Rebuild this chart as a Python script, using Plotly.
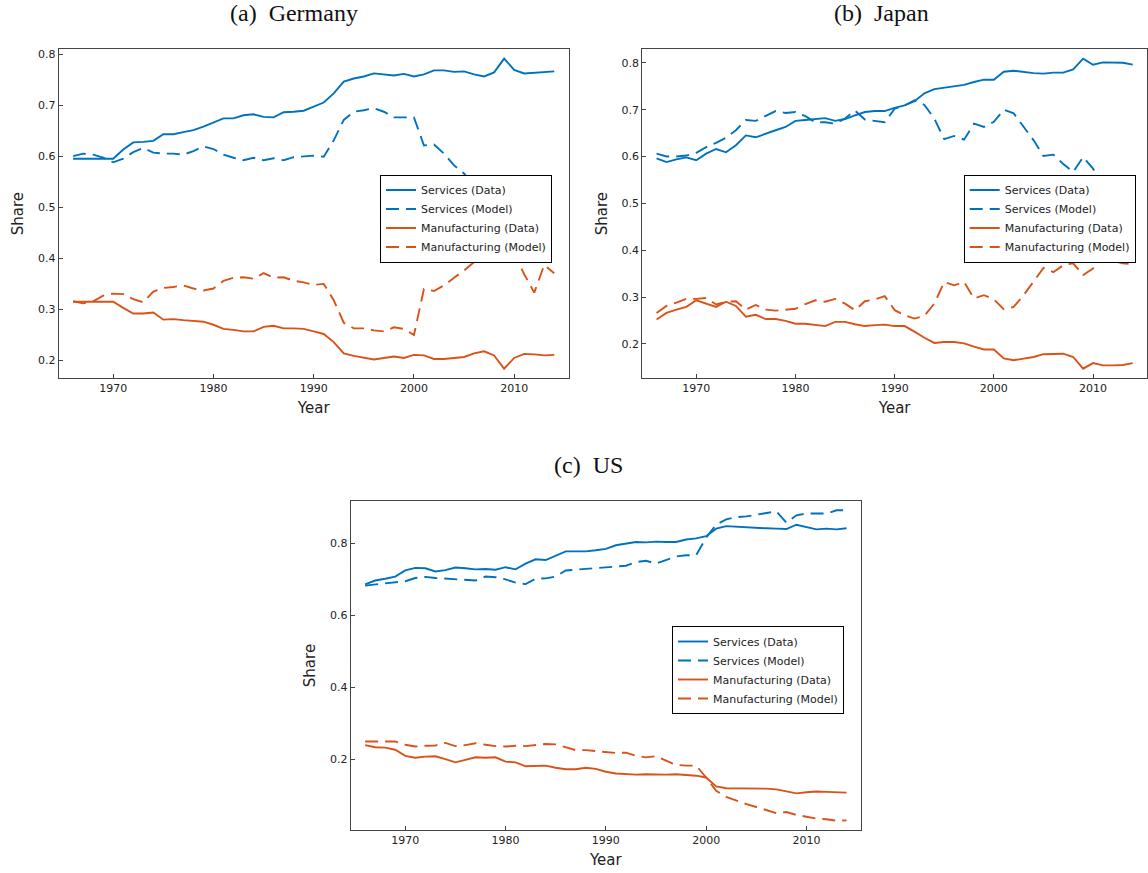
import plotly.graph_objects as go

years = list(range(1966, 2015))

# ---------------- Germany ----------------
de_serv_data = [0.595, 0.595, 0.595, 0.595, 0.595, 0.613, 0.627, 0.628, 0.630, 0.643,
                0.643, 0.647, 0.651, 0.658, 0.666, 0.674, 0.674, 0.680, 0.682, 0.677,
                0.676, 0.686, 0.687, 0.689, 0.697, 0.705, 0.723, 0.746, 0.752, 0.756,
                0.762, 0.760, 0.758, 0.761, 0.756, 0.760, 0.768, 0.768, 0.765, 0.766,
                0.760, 0.756, 0.764, 0.791, 0.769, 0.762, 0.763, 0.765, 0.766]
de_serv_model = [0.600, 0.605, 0.603, 0.597, 0.588, 0.595, 0.608, 0.616, 0.607, 0.605,
                 0.605, 0.603, 0.610, 0.619, 0.614, 0.603, 0.597, 0.592, 0.597, 0.592,
                 0.596, 0.592, 0.598, 0.599, 0.601, 0.599, 0.631, 0.671, 0.687, 0.690,
                 0.694, 0.687, 0.676, 0.676, 0.676, 0.621, 0.623, 0.605, 0.582, 0.566,
                 0.543, 0.517, 0.500, 0.505, 0.490, 0.472, 0.460, 0.459, 0.459]
de_manu_data = [0.315, 0.315, 0.315, 0.315, 0.315, 0.303, 0.292, 0.292, 0.294, 0.280,
                0.281, 0.279, 0.278, 0.276, 0.270, 0.262, 0.260, 0.257, 0.257, 0.266,
                0.268, 0.263, 0.263, 0.262, 0.257, 0.252, 0.236, 0.214, 0.209, 0.206,
                0.202, 0.205, 0.208, 0.205, 0.211, 0.210, 0.203, 0.203, 0.205, 0.207,
                0.214, 0.218, 0.210, 0.184, 0.205, 0.213, 0.212, 0.210, 0.211]
de_manu_model = [0.316, 0.312, 0.316, 0.327, 0.331, 0.330, 0.320, 0.314, 0.335, 0.342,
                 0.344, 0.347, 0.341, 0.337, 0.341, 0.356, 0.362, 0.363, 0.360, 0.371,
                 0.362, 0.363, 0.356, 0.353, 0.348, 0.350, 0.318, 0.274, 0.263, 0.263,
                 0.259, 0.257, 0.265, 0.262, 0.250, 0.340, 0.336, 0.347, 0.362, 0.376,
                 0.393, 0.412, 0.430, 0.415, 0.409, 0.369, 0.333, 0.387, 0.371]

# ---------------- Japan ----------------
jp_serv_data = [0.596, 0.588, 0.594, 0.598, 0.592, 0.606, 0.616, 0.609, 0.624, 0.645,
                0.641, 0.649, 0.656, 0.663, 0.676, 0.678, 0.680, 0.682, 0.676, 0.680,
                0.688, 0.695, 0.697, 0.697, 0.704, 0.709, 0.718, 0.735, 0.744, 0.747,
                0.749, 0.753, 0.759, 0.764, 0.764, 0.781, 0.783, 0.780, 0.778, 0.777,
                0.779, 0.779, 0.786, 0.809, 0.796, 0.801, 0.800, 0.800, 0.796]
jp_serv_model = [0.606, 0.600, 0.600, 0.602, 0.608, 0.620, 0.629, 0.640, 0.656, 0.678,
                 0.676, 0.686, 0.697, 0.693, 0.695, 0.686, 0.673, 0.673, 0.670, 0.681,
                 0.698, 0.679, 0.676, 0.673, 0.702, 0.709, 0.720, 0.710, 0.681, 0.637,
                 0.644, 0.636, 0.670, 0.663, 0.674, 0.700, 0.692, 0.663, 0.635, 0.601,
                 0.604, 0.584, 0.567, 0.599, 0.574, 0.540, 0.542, 0.542, 0.542]
jp_manu_data = [0.252, 0.266, 0.273, 0.279, 0.293, 0.286, 0.279, 0.290, 0.281, 0.258,
                0.262, 0.253, 0.253, 0.249, 0.243, 0.243, 0.241, 0.238, 0.247, 0.247,
                0.242, 0.238, 0.240, 0.241, 0.238, 0.238, 0.226, 0.213, 0.202, 0.204,
                0.204, 0.201, 0.194, 0.188, 0.188, 0.169, 0.165, 0.169, 0.172, 0.178,
                0.178, 0.179, 0.172, 0.147, 0.159, 0.154, 0.154, 0.155, 0.159]
jp_manu_model = [0.266, 0.281, 0.288, 0.296, 0.296, 0.298, 0.284, 0.290, 0.291, 0.273,
                 0.283, 0.273, 0.271, 0.273, 0.275, 0.285, 0.293, 0.290, 0.296, 0.286,
                 0.272, 0.291, 0.295, 0.302, 0.272, 0.261, 0.254, 0.260, 0.286, 0.332,
                 0.325, 0.332, 0.297, 0.304, 0.295, 0.274, 0.279, 0.304, 0.332, 0.362,
                 0.353, 0.368, 0.372, 0.347, 0.361, 0.384, 0.377, 0.372, 0.370]

# ---------------- US ----------------
us_serv_data = [0.685, 0.696, 0.701, 0.707, 0.724, 0.731, 0.730, 0.721, 0.725, 0.732,
                0.730, 0.727, 0.728, 0.726, 0.733, 0.727, 0.743, 0.755, 0.753, 0.764,
                0.777, 0.777, 0.777, 0.780, 0.784, 0.794, 0.798, 0.803, 0.802, 0.804,
                0.803, 0.803, 0.810, 0.813, 0.819, 0.840, 0.847, 0.845, 0.843, 0.843,
                0.841, 0.840, 0.839, 0.851, 0.845, 0.838, 0.840, 0.838, 0.841]
us_serv_model = [0.682, 0.685, 0.689, 0.690, 0.694, 0.703, 0.706, 0.703, 0.701, 0.700,
                 0.698, 0.696, 0.707, 0.705, 0.699, 0.690, 0.686, 0.701, 0.702, 0.707,
                 0.724, 0.726, 0.728, 0.730, 0.733, 0.736, 0.737, 0.747, 0.751, 0.743,
                 0.754, 0.763, 0.766, 0.766, 0.815, 0.851, 0.866, 0.872, 0.874, 0.879,
                 0.882, 0.888, 0.857, 0.877, 0.882, 0.883, 0.882, 0.891, 0.891]
us_manu_data = [0.239, 0.233, 0.232, 0.226, 0.209, 0.204, 0.207, 0.208, 0.200, 0.191,
                0.198, 0.205, 0.204, 0.205, 0.193, 0.191, 0.180, 0.180, 0.182, 0.176,
                0.172, 0.172, 0.176, 0.173, 0.165, 0.160, 0.158, 0.157, 0.158, 0.157,
                0.157, 0.158, 0.156, 0.154, 0.149, 0.124, 0.119, 0.119, 0.119, 0.118,
                0.118, 0.116, 0.110, 0.105, 0.108, 0.110, 0.109, 0.108, 0.107]
us_manu_model = [0.249, 0.249, 0.249, 0.249, 0.240, 0.235, 0.237, 0.238, 0.245, 0.236,
                 0.239, 0.244, 0.240, 0.236, 0.235, 0.237, 0.236, 0.239, 0.242, 0.241,
                 0.233, 0.225, 0.225, 0.223, 0.219, 0.217, 0.218, 0.209, 0.205, 0.208,
                 0.196, 0.184, 0.182, 0.182, 0.149, 0.112, 0.095, 0.084, 0.075, 0.067,
                 0.058, 0.050, 0.053, 0.045, 0.040, 0.035, 0.033, 0.029, 0.030]

titles = ["(a)\u2002Germany", "(b)\u2002Japan", "(c)\u2002US"]
series_names = ["Services (Data)", "Services (Model)", "Manufacturing (Data)", "Manufacturing (Model)"]
x_ticks = [1970, 1980, 1990, 2000, 2010]

BLUE = "#0072BD"
ORANGE = "#D95319"
DASH = "13px,7px"

W, H = 1148, 873

def fx(px):
    return px / W

def fy(py):
    return 1 - py / H

panels = [
    dict(data=[de_serv_data, de_serv_model, de_manu_data, de_manu_model],
         xd=[fx(58.7), fx(568.7)], yd=[fy(378), fy(49.3)],
         yticks=[0.2, 0.3, 0.4, 0.5, 0.6, 0.7, 0.8],
         legend=dict(x=fx(552), y=fy(218.5)), title_xy=(294, 13)),
    dict(data=[jp_serv_data, jp_serv_model, jp_manu_data, jp_manu_model],
         xd=[fx(642.3), fx(1147)], yd=[fy(378), fy(49.3)],
         yticks=[0.2, 0.3, 0.4, 0.5, 0.6, 0.7, 0.8],
         legend=dict(x=fx(1135.7), y=fy(218.5)), title_xy=(881, 13)),
    dict(data=[us_serv_data, us_serv_model, us_manu_data, us_manu_model],
         xd=[fx(350.7), fx(861)], yd=[fy(830), fy(501)],
         yticks=[0.2, 0.4, 0.6, 0.8],
         legend=dict(x=fx(844), y=fy(670)), title_xy=(588, 465)),
]

styles = [(BLUE, "solid"), (BLUE, DASH), (ORANGE, "solid"), (ORANGE, DASH)]

fig = go.Figure()
layout = dict(
    width=W, height=H,
    margin=dict(l=0, r=0, t=0, b=0),
    paper_bgcolor="white", plot_bgcolor="white",
    font=dict(family="DejaVu Sans", color="#222222"),
    annotations=[],
)

x_pad = (years[-1] - years[0]) * 0.03

for i, p in enumerate(panels):
    k = "" if i == 0 else str(i + 1)
    leg = "legend" if i == 0 else f"legend{i+1}"
    for (vals, name, (col, dash)) in zip(p["data"], series_names, styles):
        fig.add_trace(go.Scatter(
            x=years, y=vals, mode="lines", name=name,
            line=dict(color=col, width=1.9, dash=dash),
            xaxis="x" + k, yaxis="y" + k, legend=leg, showlegend=True,
        ))
    allv = [v for s in p["data"] for v in s]
    lo, hi = min(allv), max(allv)
    pad = (hi - lo) * 0.03
    axis_common = dict(
        showgrid=False, zeroline=False, showline=True, mirror=True,
        linecolor="#444444", linewidth=1, ticks="inside", ticklen=4,
        tickcolor="#444444", tickfont=dict(size=11, family="DejaVu Sans", color="#222222"),
    )
    layout["xaxis" + k] = dict(
        domain=p["xd"], anchor="y" + k,
        range=[years[0] - x_pad, years[-1] + x_pad],
        tickvals=x_ticks, ticktext=[str(t) for t in x_ticks],
        title=dict(text="Year", font=dict(size=15, family="DejaVu Sans", color="#222222"), standoff=8),
        **axis_common,
    )
    layout["yaxis" + k] = dict(
        domain=p["yd"], anchor="x" + k,
        range=[lo - pad, hi + pad],
        tickvals=p["yticks"], ticktext=[f"{t:.1f}" for t in p["yticks"]],
        title=dict(text="Share", font=dict(size=15, family="DejaVu Sans", color="#222222"), standoff=10),
        **axis_common,
    )
    layout[leg] = dict(
        x=p["legend"]["x"], y=p["legend"]["y"], xanchor="right", yanchor="middle",
        bgcolor="white", bordercolor="black", borderwidth=1,
        font=dict(size=11, family="DejaVu Sans", color="#222222"),
        tracegroupgap=0, itemwidth=30,
    )
    tx, ty = p["title_xy"]
    layout["annotations"].append(dict(
        text=titles[i], x=fx(tx), y=fy(ty), xref="paper", yref="paper",
        xanchor="center", yanchor="middle", showarrow=False,
        font=dict(family="Liberation Serif", size=24, color="#111111"),
    ))

fig.update_layout(**layout)
fig.write_html("out.html")
